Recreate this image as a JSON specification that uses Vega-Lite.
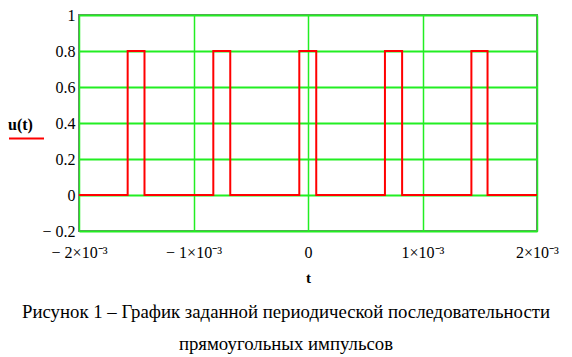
{
  "$schema": "https://vega.github.io/schema/vega-lite/v6.json",
  "width": 458,
  "height": 216,
  "autosize": "none",
  "padding": {"left": 79, "top": 15, "right": 35, "bottom": 126},
  "background": "white",
  "config": {
    "font": "Liberation Serif, Times New Roman, serif",
    "view": {"stroke": "#777777", "strokeWidth": 2},
    "axis": {"labelFont": "Liberation Serif, Times New Roman, serif", "titleFont": "Liberation Serif, Times New Roman, serif", "gridColor": "#22ee22", "gridOpacity": 1, "gridWidth": 1.5, "grid": true},
    "legend": {"labelFont": "Liberation Serif, Times New Roman, serif", "titleFont": "Liberation Serif, Times New Roman, serif"}
  },
  "title": {
    "text": ["Рисунок 1 – График заданной периодической последовательности", "прямоугольных импульсов"],
    "orient": "bottom",
    "anchor": "middle",
    "dx": -22,
    "font": "Liberation Serif, Times New Roman, serif",
    "fontSize": 18.8,
    "fontWeight": "normal",
    "lineHeight": 32,
    "offset": 18,
    "color": "#000000"
  },
  "data": {
    "values": [
      {"t": -0.002, "u": 0, "s": "u(t)"},
      {"t": -0.001575, "u": 0, "s": "u(t)"},
      {"t": -0.001575, "u": 0.8, "s": "u(t)"},
      {"t": -0.001428, "u": 0.8, "s": "u(t)"},
      {"t": -0.001428, "u": 0, "s": "u(t)"},
      {"t": -0.000827, "u": 0, "s": "u(t)"},
      {"t": -0.000827, "u": 0.8, "s": "u(t)"},
      {"t": -0.000679, "u": 0.8, "s": "u(t)"},
      {"t": -0.000679, "u": 0, "s": "u(t)"},
      {"t": -0.000076, "u": 0, "s": "u(t)"},
      {"t": -0.000076, "u": 0.8, "s": "u(t)"},
      {"t": 0.000072, "u": 0.8, "s": "u(t)"},
      {"t": 0.000072, "u": 0, "s": "u(t)"},
      {"t": 0.000672, "u": 0, "s": "u(t)"},
      {"t": 0.000672, "u": 0.8, "s": "u(t)"},
      {"t": 0.000822, "u": 0.8, "s": "u(t)"},
      {"t": 0.000822, "u": 0, "s": "u(t)"},
      {"t": 0.001427, "u": 0, "s": "u(t)"},
      {"t": 0.001427, "u": 0.8, "s": "u(t)"},
      {"t": 0.001568, "u": 0.8, "s": "u(t)"},
      {"t": 0.001568, "u": 0, "s": "u(t)"},
      {"t": 0.002, "u": 0, "s": "u(t)"}
    ]
  },
  "mark": {"type": "line", "strokeWidth": 2, "interpolate": "linear"},
  "encoding": {
    "x": {
      "field": "t",
      "type": "quantitative",
      "sort": null,
      "scale": {"domain": [-0.002, 0.002], "nice": false, "zero": false},
      "axis": {
        "values": [-0.002, -0.001, 0, 0.001, 0.002],
        "labelExpr": "datum.value < -0.0015 ? '− 2×10⁻³' : datum.value < -0.0005 ? '− 1×10⁻³' : abs(datum.value) < 0.0005 ? '0' : datum.value < 0.0015 ? '1×10⁻³' : '2×10⁻³'",
        "labelFontSize": 16,
        "labelColor": "#000000",
        "labelPadding": 13,
        "labelFlush": false,
        "labelOverlap": false,
        "ticks": false,
        "domain": false,
        "grid": true,
        "title": "t",
        "titleFontSize": 15,
        "titleFontWeight": "bold",
        "titleColor": "#000000",
        "titlePadding": 10
      }
    },
    "y": {
      "field": "u",
      "type": "quantitative",
      "scale": {"domain": [-0.2, 1], "nice": false, "zero": false},
      "axis": {
        "values": [-0.2, 0, 0.2, 0.4, 0.6, 0.8, 1],
        "labelExpr": "datum.value < -0.1 ? '− 0.2' : format(datum.value, '.1~f')",
        "labelFontSize": 16,
        "labelColor": "#000000",
        "labelPadding": 4,
        "ticks": false,
        "domain": false,
        "grid": true,
        "gridWidth": 2,
        "title": ""
      }
    },
    "color": {
      "field": "s",
      "type": "nominal",
      "scale": {"range": ["#ff0000"]},
      "legend": {
        "orient": "none",
        "legendX": -71,
        "legendY": 102,
        "title": "u(t)",
        "titleFontSize": 16,
        "titleFontWeight": "bold",
        "titleColor": "#000000",
        "titlePadding": -13,
        "symbolType": "stroke",
        "symbolSize": 1225,
        "symbolStrokeWidth": 2,
        "labelExpr": "''",
        "labelFontSize": 1
      }
    }
  }
}
